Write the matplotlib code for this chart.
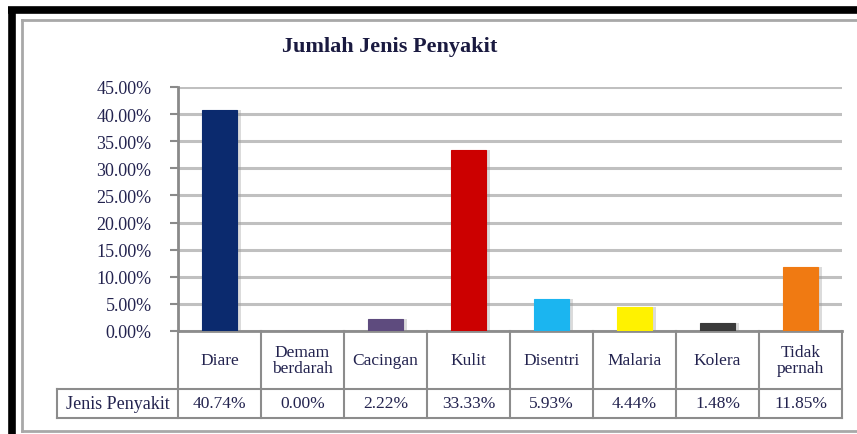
import matplotlib
matplotlib.use("Agg")
import matplotlib.pyplot as plt
from matplotlib.lines import Line2D
import matplotlib.transforms as mtransforms

# ---- data ----
categories = ["Diare", "Demam\nberdarah", "Cacingan", "Kulit", "Disentri",
              "Malaria", "Kolera", "Tidak\npernah"]
values = [40.74, 0.00, 2.22, 33.33, 5.93, 4.44, 1.48, 11.85]
value_labels = ["40.74%", "0.00%", "2.22%", "33.33%", "5.93%", "4.44%", "1.48%", "11.85%"]
bar_colors = ["#0B2A6E", "#7A6A9A", "#5E4B7E", "#CC0000", "#1BB5F0",
              "#FFF200", "#3A3A3A", "#F07A12"]
series_name = "Jenis Penyakit"
title = "Jumlah Jenis Penyakit"
yticks = [0, 5, 10, 15, 20, 25, 30, 35, 40, 45]

W, H = 857, 435
fig = plt.figure(figsize=(W / 100, H / 100), dpi=100)
plt.rcParams['font.family'] = ['Liberation Serif', 'DejaVu Serif']
txt_color = "#23234F"

# outer frames
fig.add_artist(Line2D([8 / W, 1], [1 - 10.5 / H, 1 - 10.5 / H], color="black", lw=5.5,
                      transform=fig.transFigure, solid_capstyle="butt"))
fig.add_artist(Line2D([11.5 / W, 11.5 / W], [0, 1 - 8 / H], color="black", lw=5.5,
                      transform=fig.transFigure, solid_capstyle="butt"))
fig.add_artist(Line2D([22 / W, 1], [1 - 21 / H, 1 - 21 / H], color="#A8A8A8", lw=2,
                      transform=fig.transFigure))
fig.add_artist(Line2D([22 / W, 22 / W], [1 - 21 / H, 1 - 432 / H], color="#A8A8A8", lw=2,
                      transform=fig.transFigure))
fig.add_artist(Line2D([22 / W, 1], [1 - 432 / H, 1 - 432 / H], color="#A8A8A8", lw=2,
                      transform=fig.transFigure))

left, right, top, bottom = 178, 842, 88, 332
ax = fig.add_axes([left / W, 1 - bottom / H, (right - left) / W, (bottom - top) / H])
ax.set_xlim(-0.5, len(categories) - 0.5)
ax.set_ylim(0, 45)

for s in ["top", "right", "bottom"]:
    ax.spines[s].set_visible(False)
ax.spines["left"].set_color("#8A8A8A")
ax.spines["left"].set_linewidth(2)

ax.set_yticks(yticks)
ax.set_yticklabels([f"{t:.2f}%" for t in yticks], color=txt_color, fontsize=13)
ax.tick_params(axis="y", length=6, width=1.5, color="#8A8A8A", pad=13)
ax.set_xticks([])
ax.yaxis.grid(True, color="#C0C0C0", lw=2.2)
ax.set_axisbelow(True)

x = list(range(len(categories)))
bw = 0.43
# shadows
ax.bar([xi + 0.05 for xi in x], values, width=bw, color="#9A9A9A", alpha=0.35,
       zorder=2)
ax.bar(x, values, width=bw, color=bar_colors, zorder=3,
       edgecolor=bar_colors, linewidth=0.8)

fig.text(390 / W, 1 - 47 / H, title, ha="center", va="center", fontsize=16,
         fontweight="bold", color="#1A1A40")

# ---- data table ----
trans = mtransforms.blended_transform_factory(ax.transData, ax.transAxes)
ph = bottom - top
r1 = -(390 - bottom) / ph
r2 = -(419 - bottom) / ph
lc = "#8C8C8C"
n = len(categories)
colw_px = (right - left) / n
lab_left = -0.5 - (left - 57) / colw_px

ax.add_line(Line2D([-0.5, n - 0.5], [0, 0], color=lc, lw=2, transform=trans, clip_on=False))
ax.add_line(Line2D([lab_left, n - 0.5], [r1, r1], color=lc, lw=1.5, transform=trans, clip_on=False))
ax.add_line(Line2D([lab_left, n - 0.5], [r2, r2], color=lc, lw=1.5, transform=trans, clip_on=False))
ax.add_line(Line2D([lab_left, lab_left], [r1, r2], color=lc, lw=1.5, transform=trans, clip_on=False))
for i in range(n + 1):
    ax.add_line(Line2D([i - 0.5, i - 0.5], [0, r2], color=lc, lw=1.5, transform=trans,
                       clip_on=False))

for i, (c, v) in enumerate(zip(categories, value_labels)):
    ax.text(i, r1 / 2, c, ha="center", va="center", fontsize=12.5, color=txt_color,
            transform=trans, linespacing=1.05)
    ax.text(i, (r1 + r2) / 2, v, ha="center", va="center", fontsize=12.5, color=txt_color,
            transform=trans)
ax.text((lab_left - 0.5) / 2, (r1 + r2) / 2, series_name, ha="center", va="center",
        fontsize=13, color=txt_color, transform=trans)

fig.savefig("out.png", dpi=100, facecolor="white")
